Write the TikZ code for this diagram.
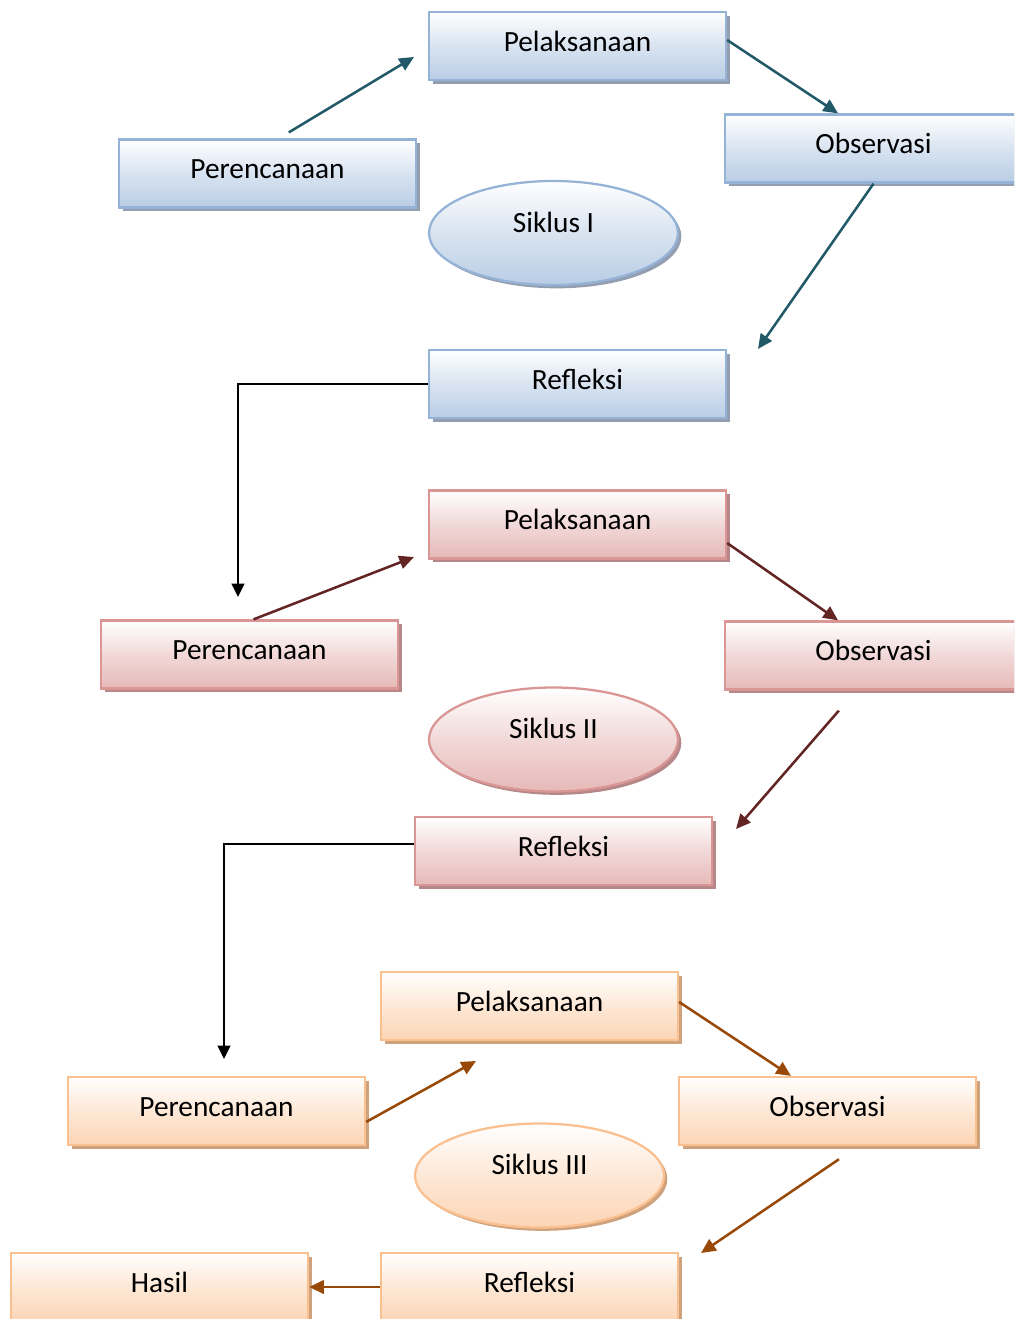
\documentclass[tikz,border=0pt]{standalone}
\usepackage{fontspec}
\setmainfont{Carlito}
\usetikzlibrary{arrows.meta, calc, shapes.geometric, shadows}
\definecolor{blueline}{HTML}{95B3D7}
\definecolor{bluefill}{HTML}{B9CDE5}
\definecolor{blueshadow}{HTML}{939FB0}
\definecolor{redline}{HTML}{D99694}
\definecolor{redfill}{HTML}{E6B9B8}
\definecolor{redshadow}{HTML}{B58789}
\definecolor{orgline}{HTML}{FAC090}
\definecolor{orgfill}{HTML}{FCD5B5}
\definecolor{orgshadow}{HTML}{CFA27E}
\definecolor{arrowI}{HTML}{215968}
\definecolor{arrowII}{HTML}{632523}
\definecolor{arrowIII}{HTML}{984807}

\begin{document}
\begin{tikzpicture}[x=0.75pt, y=-0.75pt,
  box/.style={draw=#1line, line width=1.7pt, top color=white, bottom color=#1fill,
    middle color=#1fill!55!white,
    minimum width=222.75pt, minimum height=51pt, text height=14pt, text depth=6pt,
    font=\fontsize{22}{26}\selectfont,
    drop shadow={shadow xshift=2.8pt, shadow yshift=-2.8pt, fill=#1shadow, opacity=1}},
  cyc/.style={ellipse, draw=#1line, line width=1.7pt, top color=white, bottom color=#1fill,
    middle color=#1fill!55!white,
    minimum width=186.75pt, minimum height=78pt, text height=8pt, text depth=9pt,
    font=\fontsize{22}{26}\selectfont,
    drop shadow={shadow xshift=2.5pt, shadow yshift=-2.5pt, fill=#1shadow, opacity=1}},
  arrI/.style={draw=arrowI, line width=1.9pt, -{Triangle[length=11pt, width=10pt]}},
  arrII/.style={draw=arrowII, line width=1.9pt, -{Triangle[length=11pt, width=10pt]}},
  arrIII/.style={draw=arrowIII, line width=1.9pt, -{Triangle[length=11pt, width=10pt]}},
  arrK/.style={draw=black, line width=1.3pt, -{Triangle[length=10pt, width=9.5pt]}}]

\clip (0,0) rectangle (1014,1319);

% ================================================================
% Siklus I
% ================================================================
\node[box=blue] (pel1) at (577.5,46) {Pelaksanaan};
\node[box=blue] (plan1) at (267.5,173.5) {Perencanaan};
\node[box=blue] (obs1) at (873.5,148.5) {Observasi};
\node[cyc=blue] (sik1) at (553.5,233) {Siklus I};
\node[box=blue] (ref1) at (577.5,384) {Refleksi};

\coordinate (tip1a) at (414,57);
\coordinate (tip1b) at (758,349);
\coordinate (tip1c) at (238,597);

\draw[arrI] ([xshift=16pt, yshift=4.5pt]plan1.north) -- (tip1a);
\draw[arrI] ([yshift=4.5pt]pel1.east) -- ([xshift=-26.6pt]obs1.north);
\draw[arrI] (obs1.south) -- (tip1b);
\draw[arrK] (ref1.west) -| (tip1c);

% ================================================================
% Siklus II
% ================================================================
\node[box=red] (pel2) at (577.5,524.5) {Pelaksanaan};
\node[box=red] (plan2) at (249.5,654.5) {Perencanaan};
\node[box=red] (obs2) at (873.5,655.5) {Observasi};
\node[cyc=red] (sik2) at (553.5,739.5) {Siklus II};
\node[box=red] (ref2) at (563.5,851) {Refleksi};

\coordinate (tip2a) at (414,557);
\coordinate (tip2b) at (736,829);
\coordinate (tip2c) at (224,1059);

\draw[arrII] ([xshift=3pt]plan2.north) -- (tip2a);
\draw[arrII] ([yshift=-13.9pt]pel2.east) -- ([xshift=-26.6pt]obs2.north);
\draw[arrII] ([xshift=-26pt, yshift=-15pt]obs2.south) -- (tip2b);
\draw[arrK] ([yshift=5.2pt]ref2.west) -| (tip2c);

% ================================================================
% Siklus III
% ================================================================
\node[box=org] (pel3) at (529.5,1006) {Pelaksanaan};
\node[box=org] (plan3) at (216.5,1111) {Perencanaan};
\node[box=org] (obs3) at (827.5,1111) {Observasi};
\node[cyc=org] (sik3) at (539.5,1175.5) {Siklus III};
\node[box=org] (ref3) at (529.5,1287) {Refleksi};
\node[box=org] (hasil) at (159.5,1287) {Hasil};

\coordinate (tip3a) at (476,1061);
\coordinate (tip3b) at (701,1253);

\draw[arrIII] ([yshift=-8.2pt]plan3.east) -- (tip3a);
\draw[arrIII] ([yshift=3pt]pel3.east) -- ([xshift=-27.4pt]obs3.north);
\draw[arrIII] ([xshift=8.6pt, yshift=-9.8pt]obs3.south) -- (tip3b);
\draw[arrIII] (ref3.west) -- (hasil.east);

\end{tikzpicture}
\end{document}
